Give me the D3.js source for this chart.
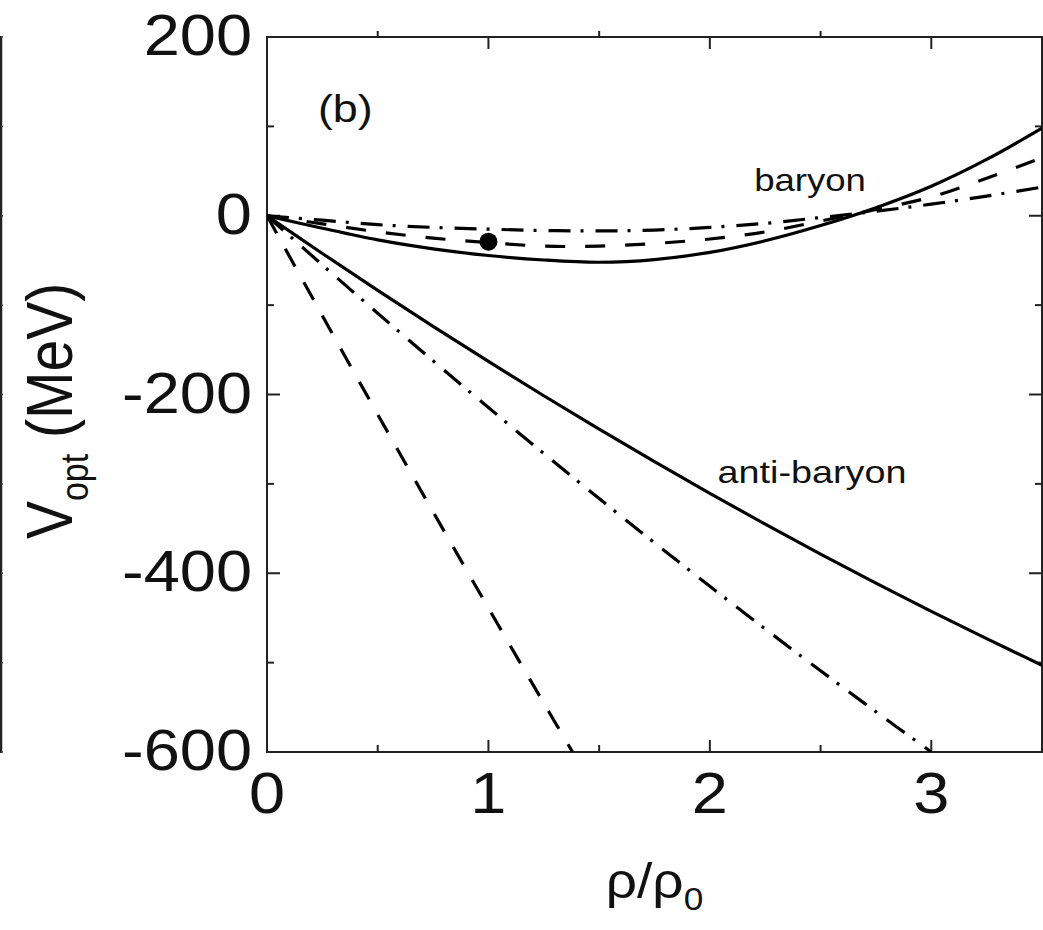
<!DOCTYPE html>
<html><head><meta charset="utf-8">
<script src="https://cdn.jsdelivr.net/npm/d3@7"></script>
<style>body{margin:0;background:#fff;} svg{display:block;}</style>
</head><body>
<script>
// ---- data ----
const rhoFull = [0,0.25,0.5,0.75,1.0,1.25,1.5,1.75,2.0,2.25,2.5,2.75,3.0,3.25,3.5];
const baryonSolid   = [0,-14,-27,-37,-44.5,-49.5,-52,-49,-41,-28,-11,9,33,63,98];
const baryonDashed  = [0,-9,-18,-25,-30,-34,-34,-31,-26,-18,-6,7,21,42,65];
const baryonDashDot = [0,-5,-10,-13,-15,-16.5,-17,-16,-13,-8.5,-2,5,13,22,32];
const antiSolid     = [0,-42.2,-83.5,-123.7,-163.0,-201.4,-238.8,-275.2,-310.6,-345.1,-378.6,-411.1,-442.7,-473.2,-502.9];
const rhoAntiDashDot = [0,0.25,0.5,0.75,1.0,1.25,1.5,1.75,2.0,2.25,2.5,2.75,3.0];
const antiDashDot   = [0,-55.0,-109.1,-162.3,-214.6,-266.0,-316.4,-365.9,-414.6,-462.3,-509.1,-555.0,-600];
const rhoAntiDashed = [0,0.25,0.5,0.75,1.0,1.25,1.38];
const antiDashed    = [0,-111.8,-222.3,-331.3,-439,-545.3,-600];
const pointRho = [1.0];
const pointV = [-29];
const xMajor = [0,1,2,3];
const xMinor = [0.5,1.5,2.5];
const yMajor = [200,0,-200,-400,-600];
const yMinor = [100,-100,-300,-500];

const W = 1043, H = 930;
const svg = d3.select("body").append("svg").attr("width", W).attr("height", H);
const x = d3.scaleLinear().domain([0,3.5]).range([267,1042]);
const y = d3.scaleLinear().domain([-600,200]).range([752,37]);
const FONT = "'Liberation Sans', Arial, sans-serif";
const SX = 1.12;

svg.append("clipPath").attr("id","clip").append("rect")
  .attr("x", x(0)).attr("y", y(200)).attr("width", x(3.5)-x(0)).attr("height", y(-600)-y(200));

// neighbouring panel edge at far left
svg.append("line").attr("x1",1).attr("x2",1).attr("y1",y(200)-1).attr("y2",y(-600)+1)
  .attr("stroke","#222").attr("stroke-width",2.5);
svg.selectAll(".edgeTick").data(yMajor.concat(yMinor)).enter().append("line")
  .attr("x1",1).attr("x2",3).attr("y1",d=>y(d)).attr("y2",d=>y(d))
  .attr("stroke","#444").attr("stroke-width",1.5);

// frame
const axisCol = "#222";
svg.append("rect").attr("x",x(0)).attr("y",y(200)).attr("width",x(3.5)-x(0)).attr("height",y(-600)-y(200))
  .attr("fill","none").attr("stroke",axisCol).attr("stroke-width",2);

const g = svg.append("g").attr("stroke",axisCol).attr("stroke-width",2);
g.selectAll(".bM").data(xMajor).enter().append("line")
  .attr("x1",d=>x(d)).attr("x2",d=>x(d)).attr("y1",y(-600)).attr("y2",y(-600)-12);
g.selectAll(".bm").data(xMinor).enter().append("line")
  .attr("x1",d=>x(d)).attr("x2",d=>x(d)).attr("y1",y(-600)).attr("y2",y(-600)-7);
g.selectAll(".tM").data(xMajor).enter().append("line")
  .attr("x1",d=>x(d)).attr("x2",d=>x(d)).attr("y1",y(200)).attr("y2",y(200)+12);
g.selectAll(".tm").data(xMinor).enter().append("line")
  .attr("x1",d=>x(d)).attr("x2",d=>x(d)).attr("y1",y(200)).attr("y2",y(200)-6);
g.selectAll(".lM").data(yMajor).enter().append("line")
  .attr("x1",x(0)).attr("x2",x(0)+13).attr("y1",d=>y(d)).attr("y2",d=>y(d));
g.selectAll(".lm").data(yMinor).enter().append("line")
  .attr("x1",x(0)).attr("x2",x(0)+7).attr("y1",d=>y(d)).attr("y2",d=>y(d));
g.selectAll(".rM").data(yMajor).enter().append("line")
  .attr("x1",x(3.5)).attr("x2",x(3.5)-13).attr("y1",d=>y(d)).attr("y2",d=>y(d));
g.selectAll(".rm").data(yMinor).enter().append("line")
  .attr("x1",x(3.5)).attr("x2",x(3.5)-7).attr("y1",d=>y(d)).attr("y2",d=>y(d));

// tick labels
svg.selectAll(".yl").data(yMajor).enter().append("text")
  .attr("transform",d=>`translate(${x(0)-15},${y(d)+18}) scale(${SX},1)`)
  .attr("text-anchor","end").attr("font-family",FONT).attr("font-size",58).attr("fill","#111")
  .text(d=>String(d));
svg.selectAll(".xl").data(xMajor).enter().append("text")
  .attr("transform",d=>`translate(${x(d)},${y(-600)+61}) scale(${SX},1)`)
  .attr("text-anchor","middle").attr("font-family",FONT).attr("font-size",58).attr("fill","#111")
  .text(d=>String(d));

// axis titles
const xt = svg.append("text")
  .attr("transform",`translate(${(x(0)+x(3.5))/2},898) scale(1.1,1)`)
  .attr("text-anchor","middle").attr("font-family",FONT).attr("font-size",50).attr("fill","#111");
xt.append("tspan").text("ρ/ρ");
xt.append("tspan").attr("font-size",32).attr("dy",12).text("0");

const yt = svg.append("text")
  .attr("transform",`translate(72,411) rotate(-90) scale(1,1.13)`)
  .attr("text-anchor","middle").attr("font-family",FONT).attr("font-size",57).attr("fill","#111");
yt.append("tspan").text("V");
yt.append("tspan").attr("font-size",34).attr("dy",14).text("opt");
yt.append("tspan").attr("dy",-14).text(" (MeV)");

// annotations
function ann(t, rx, vy, fs){
  svg.append("text").attr("transform",`translate(${x(rx)},${y(vy)}) scale(1.18,1)`)
    .attr("font-family",FONT).attr("font-size",fs).attr("fill","#111").text(t);
}
ann("(b)", 0.23, 105, 38);
ann("baryon", 2.2, 28, 31);
ann("anti-baryon", 2.035, -299, 32);

// curves
const plot = svg.append("g").attr("clip-path","url(#clip)");
const line = d3.line().x(d=>x(d[0])).y(d=>y(d[1])).curve(d3.curveCatmullRom.alpha(0.5));
function curve(rs, vs, dash){
  plot.append("path").datum(rs.map((r,i)=>[r,vs[i]]))
    .attr("d",line).attr("fill","none").attr("stroke","#000").attr("stroke-width",3.2)
    .attr("stroke-dasharray",dash);
}
curve(rhoFull, baryonSolid, null);
curve(rhoFull, baryonDashed, "20,20");
curve(rhoFull, baryonDashDot, "22,10,3,12");
curve(rhoFull, antiSolid, null);
curve(rhoAntiDashDot, antiDashDot, "22,10,3,12");
curve(rhoAntiDashed, antiDashed, "20,18");

svg.selectAll(".pt").data(pointRho).enter().append("circle")
  .attr("cx",d=>x(d)).attr("cy",(d,i)=>y(pointV[i])).attr("r",9).attr("fill","#000");
</script>
</body></html>
